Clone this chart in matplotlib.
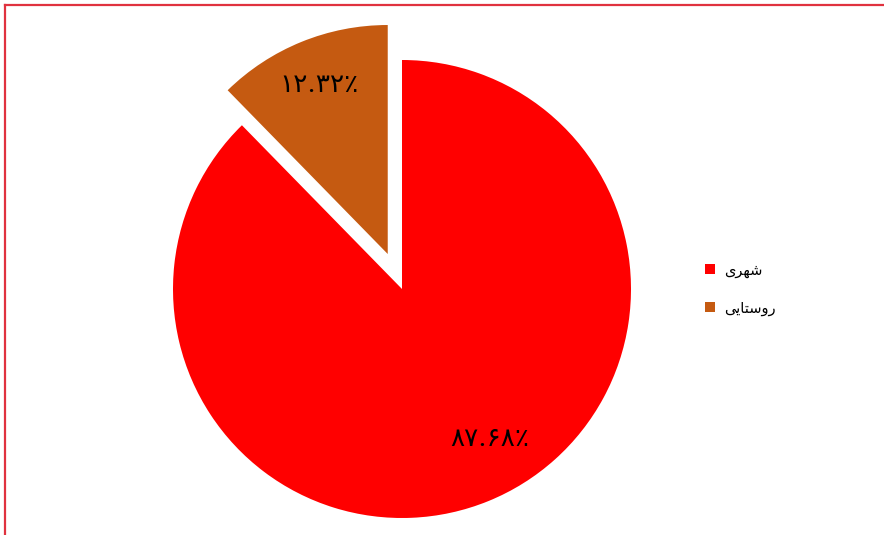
import matplotlib.pyplot as plt
from matplotlib.patches import Rectangle
from matplotlib.lines import Line2D

# data
labels = ["\uFEEF\uFEAE\uFEEC\uFEB7",                   # شهری (shaped, visual order)
          "\uFEF0\uFEF3\uFE8E\uFE98\uFEB3\uFEED\uFEAD"]  # روستایی
values = [87.68, 12.32]
colors = ["#ff0000", "#c55a11"]
explode = [0, 0.165]

fa_digits = str.maketrans("0123456789", "۰۱۲۳۴۵۶۷۸۹")


def fa_pct(p):
    return ("%.2f" % p).translate(fa_digits) + "٪"


fig = plt.figure(figsize=(8.84, 5.35), dpi=100)
W, H = 884, 535

# pie axes: centre (402, 289) px, radius 229 px
half = 270
ax = fig.add_axes([(402 - half) / W, (H - 289 - half) / H, 2 * half / W, 2 * half / H])
wedges, texts, autotexts = ax.pie(values, colors=colors, explode=explode,
                                  startangle=90, counterclock=False,
                                  autopct=fa_pct, pctdistance=0.8,
                                  wedgeprops=dict(linewidth=0),
                                  textprops=dict(fontsize=19, color="black",
                                                 family=["DejaVu Serif", "DejaVu Sans"]))
# the big slice's label sits a bit further round to the right
autotexts[0].set_position((0.384, -0.655))

lim = half / 229
ax.set_xlim(-lim, lim)
ax.set_ylim(-lim, lim)
ax.set_aspect("equal")
ax.axis("off")

# legend on the right
handles = [Rectangle((0, 0), 1, 1, facecolor=c, edgecolor="none") for c in colors]
fig.legend(handles, labels, loc="center left", bbox_to_anchor=(705 / W, 1 - 289 / H),
           frameon=False, fontsize=10.5, handlelength=0.7, handleheight=0.7,
           handletextpad=0.6, labelspacing=1.55, borderpad=0, borderaxespad=0)

# red frame (top and left edges)
bc = "#e0323f"
fig.add_artist(Line2D([5 / W, 1.0], [1 - 4.5 / H, 1 - 4.5 / H], color=bc, lw=1.6,
                      transform=fig.transFigure))
fig.add_artist(Line2D([5 / W, 5 / W], [0, 1 - 4.5 / H], color=bc, lw=1.6,
                      transform=fig.transFigure))

plt.savefig("out.png", dpi=100)
